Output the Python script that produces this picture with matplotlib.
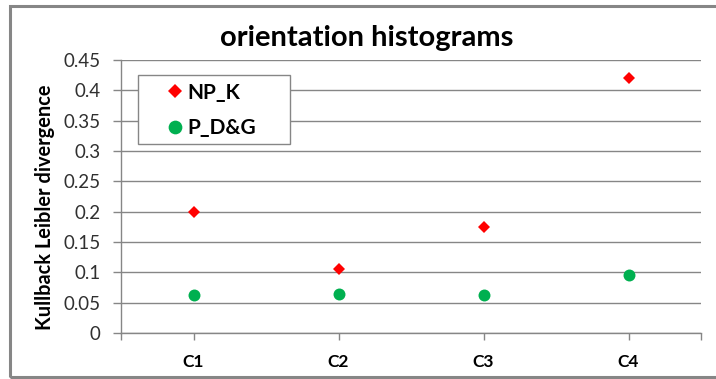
import matplotlib
matplotlib.use('Agg')
import matplotlib.pyplot as plt
from matplotlib.patches import Rectangle

# Divergence values per class
categories = ['C1', 'C2', 'C3', 'C4']
np_k = [0.200, 0.106, 0.174, 0.420]
p_dg = [0.062, 0.065, 0.062, 0.096]

title = 'orientation histograms'
ylabel = 'Kullback Leibler divergence'
yticks = [0, 0.05, 0.1, 0.15, 0.2, 0.25, 0.3, 0.35, 0.4, 0.45]
ytick_labels = ['0', '0.05', '0.1', '0.15', '0.2', '0.25', '0.3', '0.35', '0.4', '0.45']

plt.rcParams['font.family'] = ['Lato', 'DejaVu Sans']

W, H = 716, 379
fig = plt.figure(figsize=(W / 100, H / 100), dpi=100)
fig.patch.set_facecolor('white')


def px_box(x0, y0, x1, y1):
    """Figure-fraction rectangle from pixel corners (origin top left)."""
    return x0 / W, 1 - y1 / H, (x1 - x0) / W, (y1 - y0) / H


# outer chart frame (runs off the right edge)
fx, fy, fw, fh = px_box(10, 6, 730, 377)
fig.patches.append(Rectangle((fx, fy), fw, fh, transform=fig.transFigure,
                             fill=False, edgecolor='#868686', linewidth=2.2, zorder=0))

ax = fig.add_axes(px_box(121, 60, 701, 333))
x = list(range(1, len(categories) + 1))

ax.plot(x, np_k, linestyle='none', marker='D', markersize=6.6, color='#ff0000',
        markeredgewidth=0, label='NP_K', zorder=3)
ax.plot(x, p_dg, linestyle='none', marker='o', markersize=8.6, color='#00b050',
        markeredgewidth=0, label='P_D&G', zorder=3)

ax.set_xlim(0.5, 4.5)
ax.set_ylim(0, 0.45)
ax.set_yticks(yticks)
ax.set_yticklabels(ytick_labels)
ax.set_xticks([0.5] + x + [4.5])
ax.set_xticklabels([''] + categories + [''], fontweight='bold')

ax.grid(axis='y', color='#868686', linewidth=1)
ax.set_axisbelow(True)
for side in ('top', 'right'):
    ax.spines[side].set_visible(False)
for side in ('left', 'bottom'):
    ax.spines[side].set_color('#868686')
    ax.spines[side].set_linewidth(1)

ax.tick_params(axis='y', length=6, width=1, color='#868686', labelsize=13.5,
               labelcolor='#303030', pad=8.5)
ax.tick_params(axis='x', length=5, width=1, color='#868686', labelsize=12.5,
               labelcolor='black', pad=10)

ax.set_ylabel(ylabel, fontsize=14.4, fontweight='bold')
ax.yaxis.set_label_coords(-0.114, 0.46)
fig.text(367 / W, 1 - 38 / H, title, ha='center', va='center',
         fontsize=21, fontweight='bold')

# legend entries without their own frame; the box is drawn separately
lx, ly, lw, lh = px_box(138, 75, 290, 144)
ax.add_patch(Rectangle((lx, ly), lw, lh, transform=fig.transFigure, clip_on=False,
                       facecolor='white', edgecolor='#868686', linewidth=1, zorder=4))
leg = ax.legend(loc='upper left', bbox_to_anchor=(164.5 / W, 1 - 82.5 / H),
                bbox_transform=fig.transFigure, frameon=False,
                prop={'weight': 'bold', 'size': 15},
                handletextpad=0.12, handlelength=1.0, borderpad=0, labelspacing=0.74,
                borderaxespad=0, markerscale=1.15)
leg.set_zorder(6)

fig.savefig('out.png', dpi=100)
